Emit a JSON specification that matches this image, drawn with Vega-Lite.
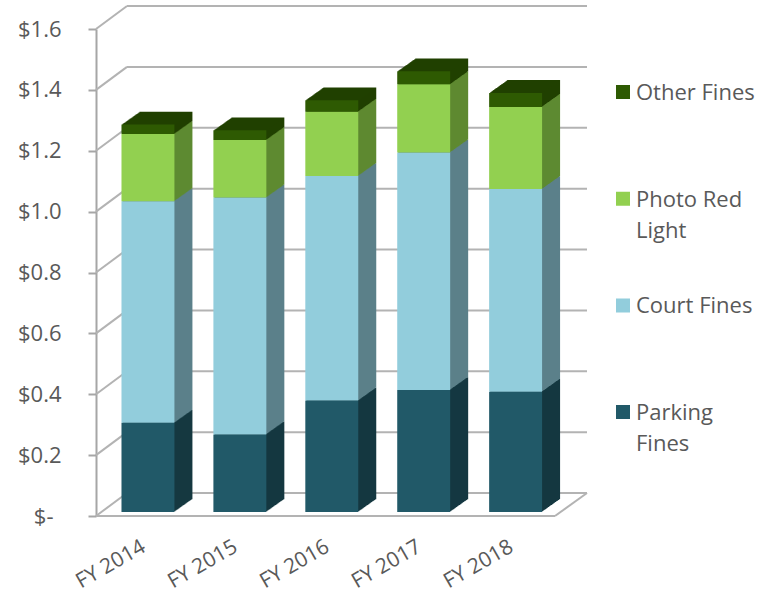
{
  "$schema": "https://vega.github.io/schema/vega-lite/v6.json",
  "width": 491,
  "height": 487,
  "autosize": {"type": "none"},
  "padding": {"left": 96, "top": 29, "right": 184, "bottom": 76},
  "background": "white",
  "config": {"view": {"stroke": null}, "font": "Open Sans"},
  "datasets": {
    "fines": [
      {"year": "FY 2014", "type": "Parking Fines", "amount": 0.293},
      {"year": "FY 2014", "type": "Court Fines", "amount": 0.728},
      {"year": "FY 2014", "type": "Photo Red Light", "amount": 0.221},
      {"year": "FY 2014", "type": "Other Fines", "amount": 0.031},
      {"year": "FY 2015", "type": "Parking Fines", "amount": 0.255},
      {"year": "FY 2015", "type": "Court Fines", "amount": 0.778},
      {"year": "FY 2015", "type": "Photo Red Light", "amount": 0.189},
      {"year": "FY 2015", "type": "Other Fines", "amount": 0.032},
      {"year": "FY 2016", "type": "Parking Fines", "amount": 0.366},
      {"year": "FY 2016", "type": "Court Fines", "amount": 0.738},
      {"year": "FY 2016", "type": "Photo Red Light", "amount": 0.211},
      {"year": "FY 2016", "type": "Other Fines", "amount": 0.038},
      {"year": "FY 2017", "type": "Parking Fines", "amount": 0.401},
      {"year": "FY 2017", "type": "Court Fines", "amount": 0.780},
      {"year": "FY 2017", "type": "Photo Red Light", "amount": 0.224},
      {"year": "FY 2017", "type": "Other Fines", "amount": 0.043},
      {"year": "FY 2018", "type": "Parking Fines", "amount": 0.395},
      {"year": "FY 2018", "type": "Court Fines", "amount": 0.666},
      {"year": "FY 2018", "type": "Photo Red Light", "amount": 0.270},
      {"year": "FY 2018", "type": "Other Fines", "amount": 0.046}
    ],
    "rank": [
      {"type": "Parking Fines", "rank": 1},
      {"type": "Court Fines", "rank": 2},
      {"type": "Photo Red Light", "rank": 3},
      {"type": "Other Fines", "rank": 4}
    ],
    "grid": [{"v": 0}, {"v": 0.2}, {"v": 0.4}, {"v": 0.6}, {"v": 0.8}, {"v": 1.0}, {"v": 1.2}, {"v": 1.4}, {"v": 1.6}],
    "one": [{"v": 0}]
  },
  "resolve": {"scale": {"x": "independent"}},
  "layer": [
    {
      "data": {"name": "grid"},
      "mark": {"type": "rule", "color": "#b3b3b3", "strokeWidth": 2, "x2Offset": 31, "y2Offset": -23},
      "encoding": {
        "x": {"datum": 0, "type": "quantitative", "scale": {"domain": [0, 1]}, "axis": null},
        "x2": {"datum": 0},
        "y": {"field": "v", "type": "quantitative", "scale": {"domain": [0, 1.6], "nice": false}},
        "y2": {"field": "v"}
      }
    },
    {
      "data": {"name": "grid"},
      "mark": {"type": "rule", "color": "#b3b3b3", "strokeWidth": 2, "xOffset": 31, "yOffset": -23, "y2Offset": -23},
      "encoding": {
        "x": {"datum": 0, "type": "quantitative", "scale": {"domain": [0, 1]}, "axis": null},
        "x2": {"datum": 1},
        "y": {"field": "v", "type": "quantitative"},
        "y2": {"field": "v"}
      }
    },
    {
      "data": {"name": "one"},
      "mark": {"type": "rule", "color": "#b3b3b3", "strokeWidth": 2, "x2Offset": -32},
      "encoding": {
        "x": {"datum": 0, "type": "quantitative", "scale": {"domain": [0, 1]}, "axis": null},
        "x2": {"datum": 1},
        "y": {"field": "v", "type": "quantitative"},
        "y2": {"field": "v"}
      }
    },
    {
      "data": {"name": "one"},
      "mark": {"type": "rule", "color": "#b3b3b3", "strokeWidth": 2, "xOffset": -32, "y2Offset": -23},
      "encoding": {
        "x": {"datum": 1, "type": "quantitative", "scale": {"domain": [0, 1]}, "axis": null},
        "x2": {"datum": 1},
        "y": {"field": "v", "type": "quantitative"},
        "y2": {"field": "v"}
      }
    },
    {
      "data": {"name": "fines"},
      "transform": [{"lookup": "type", "from": {"data": {"name": "rank"}, "key": "type", "fields": ["rank"]}}],
      "encoding": {
        "x": {
          "field": "year", "type": "nominal",
          "scale": {"paddingInner": 0.424, "paddingOuter": 0.383, "align": 0.362},
          "axis": {"title": null, "domain": false, "ticks": false, "labelAngle": -30, "labelAlign": "right", "labelBaseline": "middle", "labelPadding": 29, "labelOffset": -4, "labelFontSize": 21, "labelColor": "#595959", "labelFont": "Open Sans", "labelOverlap": false, "labelBound": false}
        },
        "y": {
          "field": "amount", "type": "quantitative", "stack": "zero",
          "scale": {"domain": [0, 1.6], "nice": false},
          "axis": {"title": null, "values": [0, 0.2, 0.4, 0.6, 0.8, 1.0, 1.2, 1.4, 1.6], "grid": false, "domainColor": "#a6a6a6", "domainWidth": 2, "tickColor": "#a6a6a6", "tickWidth": 2, "tickSize": 8, "labelPadding": {"condition": {"test": "datum.value == 0", "value": 35}, "value": 27}, "labelFontSize": 22, "labelColor": "#595959", "labelFont": "Open Sans", "labelExpr": "datum.value == 0 ? '$-' : '$' + format(datum.value, '.1f')"}
        },
        "order": {"field": "rank", "type": "quantitative"}
      },
      "layer": [
        {"mark": {"type": "bar", "xOffset": 18, "x2Offset": 18, "yOffset": -16.78, "y2Offset": -16.78}, "encoding": {"fill": {"field": "type", "type": "nominal", "scale": {"domain": ["Parking Fines", "Court Fines", "Photo Red Light", "Other Fines"], "range": ["#153841", "#5c808a", "#5e8a31", "#214000"]}, "legend": null}}},
        {"mark": {"type": "bar", "xOffset": 17, "x2Offset": 17, "yOffset": -16.07, "y2Offset": -16.07}, "encoding": {"fill": {"field": "type", "type": "nominal", "legend": null}}},
        {"mark": {"type": "bar", "xOffset": 16, "x2Offset": 16, "yOffset": -15.36, "y2Offset": -15.36}, "encoding": {"fill": {"field": "type", "type": "nominal", "legend": null}}},
        {"mark": {"type": "bar", "xOffset": 15, "x2Offset": 15, "yOffset": -14.65, "y2Offset": -14.65}, "encoding": {"fill": {"field": "type", "type": "nominal", "legend": null}}},
        {"mark": {"type": "bar", "xOffset": 14, "x2Offset": 14, "yOffset": -13.94, "y2Offset": -13.94}, "encoding": {"fill": {"field": "type", "type": "nominal", "legend": null}}},
        {"mark": {"type": "bar", "xOffset": 13, "x2Offset": 13, "yOffset": -13.23, "y2Offset": -13.23}, "encoding": {"fill": {"field": "type", "type": "nominal", "legend": null}}},
        {"mark": {"type": "bar", "xOffset": 12, "x2Offset": 12, "yOffset": -12.52, "y2Offset": -12.52}, "encoding": {"fill": {"field": "type", "type": "nominal", "legend": null}}},
        {"mark": {"type": "bar", "xOffset": 11, "x2Offset": 11, "yOffset": -11.81, "y2Offset": -11.81}, "encoding": {"fill": {"field": "type", "type": "nominal", "legend": null}}},
        {"mark": {"type": "bar", "xOffset": 10, "x2Offset": 10, "yOffset": -11.1, "y2Offset": -11.1}, "encoding": {"fill": {"field": "type", "type": "nominal", "legend": null}}},
        {"mark": {"type": "bar", "xOffset": 9, "x2Offset": 9, "yOffset": -10.39, "y2Offset": -10.39}, "encoding": {"fill": {"field": "type", "type": "nominal", "legend": null}}},
        {"mark": {"type": "bar", "xOffset": 8, "x2Offset": 8, "yOffset": -9.68, "y2Offset": -9.68}, "encoding": {"fill": {"field": "type", "type": "nominal", "legend": null}}},
        {"mark": {"type": "bar", "xOffset": 7, "x2Offset": 7, "yOffset": -8.97, "y2Offset": -8.97}, "encoding": {"fill": {"field": "type", "type": "nominal", "legend": null}}},
        {"mark": {"type": "bar", "xOffset": 6, "x2Offset": 6, "yOffset": -8.26, "y2Offset": -8.26}, "encoding": {"fill": {"field": "type", "type": "nominal", "legend": null}}},
        {"mark": {"type": "bar", "xOffset": 5, "x2Offset": 5, "yOffset": -7.55, "y2Offset": -7.55}, "encoding": {"fill": {"field": "type", "type": "nominal", "legend": null}}},
        {"mark": {"type": "bar", "xOffset": 4, "x2Offset": 4, "yOffset": -6.84, "y2Offset": -6.84}, "encoding": {"fill": {"field": "type", "type": "nominal", "legend": null}}},
        {"mark": {"type": "bar", "xOffset": 3, "x2Offset": 3, "yOffset": -6.13, "y2Offset": -6.13}, "encoding": {"fill": {"field": "type", "type": "nominal", "legend": null}}},
        {"mark": {"type": "bar", "xOffset": 2, "x2Offset": 2, "yOffset": -5.42, "y2Offset": -5.42}, "encoding": {"fill": {"field": "type", "type": "nominal", "legend": null}}},
        {"mark": {"type": "bar", "xOffset": 1, "x2Offset": 1, "yOffset": -4.71, "y2Offset": -4.71}, "encoding": {"fill": {"field": "type", "type": "nominal", "legend": null}}},
        {
          "mark": {"type": "bar", "yOffset": -4, "y2Offset": -4},
          "encoding": {
            "color": {
              "field": "type", "type": "nominal",
              "scale": {"domain": ["Other Fines", "Photo Red Light", "Court Fines", "Parking Fines"], "range": ["#2e5a02", "#92d050", "#92cddc", "#215968"]},
              "legend": {
                "orient": "none", "legendX": 516, "legendY": 13, "title": null, "padding": 0,
                "symbolType": "square", "symbolSize": 196, "symbolStrokeWidth": 0,
                "labelFontSize": 22, "labelColor": "#595959", "labelFont": "Open Sans", "labelOffset": 2,
                "clipHeight": 100, "rowPadding": 6.7, "labelBaseline": "top", "labelLimit": 200,
                "labelExpr": "datum.label == 'Photo Red Light' ? ['Photo Red', 'Light'] : datum.label == 'Parking Fines' ? ['Parking', 'Fines'] : datum.label",
                "encode": {"labels": {"update": {"lineHeight": {"value": 31}, "dy": {"value": -9}}}}
              }
            }
          }
        }
      ]
    }
  ]
}
